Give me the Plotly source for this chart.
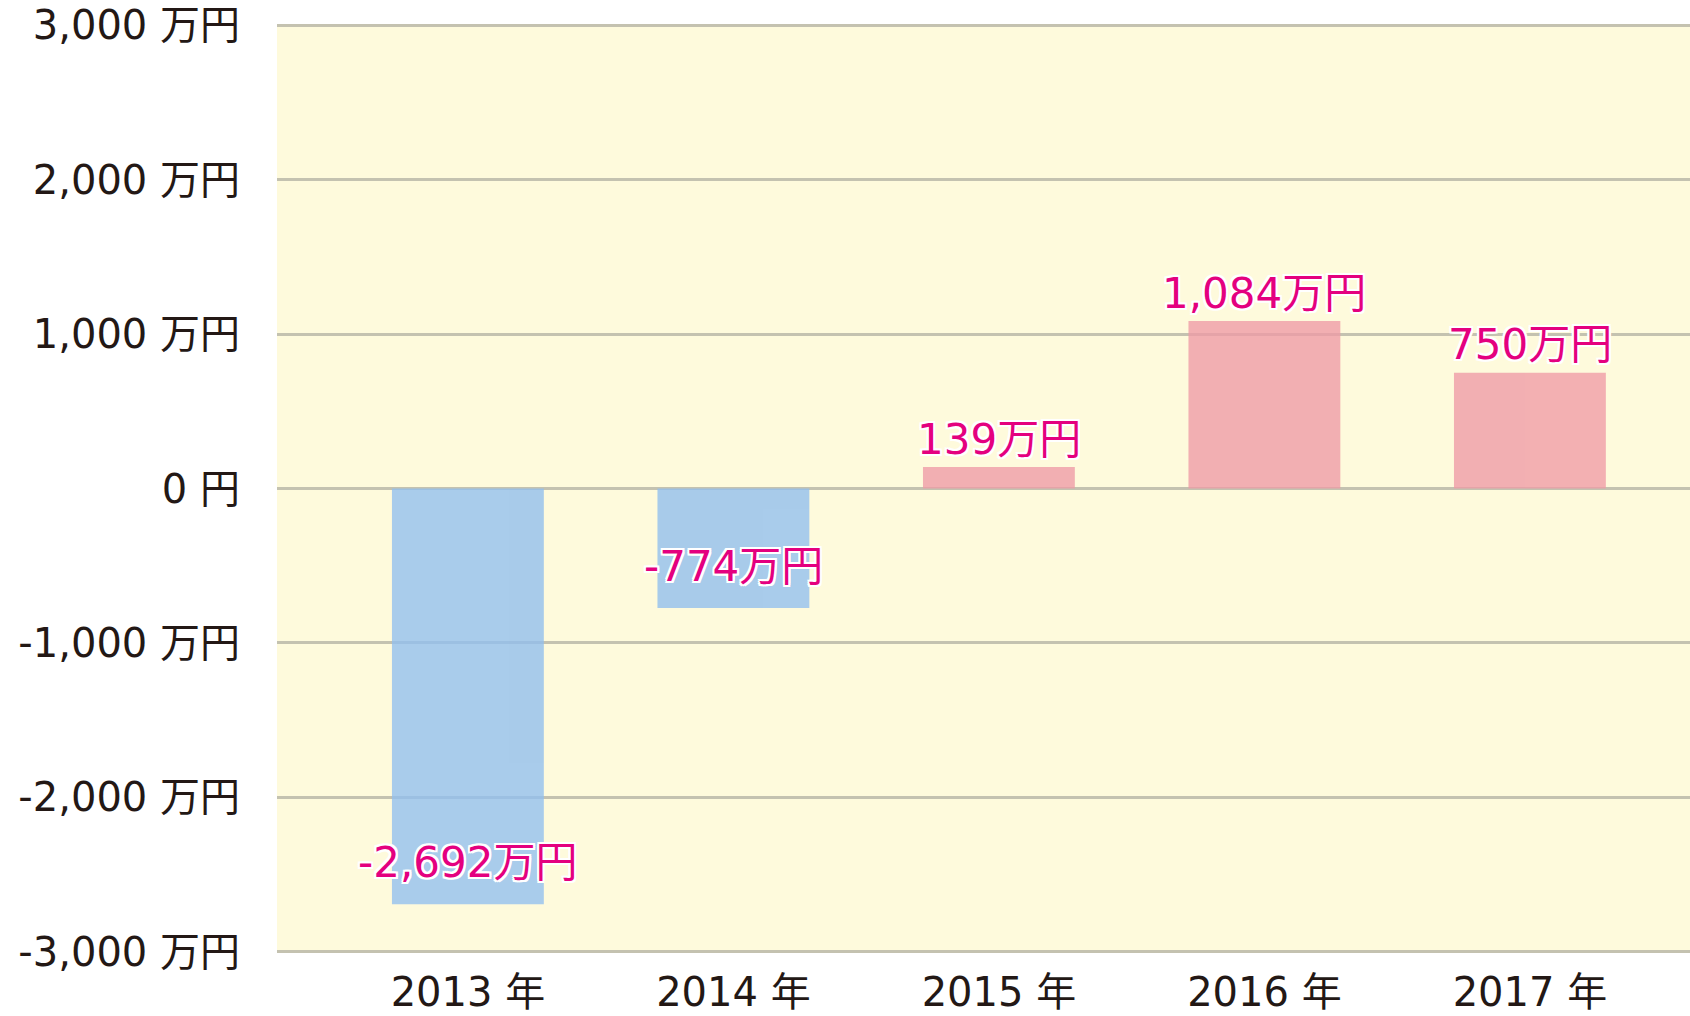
import plotly.graph_objects as go

years = ["2013 年", "2014 年", "2015 年", "2016 年", "2017 年"]
values = [-2692, -774, 139, 1084, 750]
value_labels = ["-2,692万円", "-774万円", "139万円", "1,084万円", "750万円"]
tick_vals = [3000, 2000, 1000, 0, -1000, -2000, -3000]
tick_text = ["3,000 万円", "2,000 万円", "1,000 万円", "0 円", "-1,000 万円", "-2,000 万円", "-3,000 万円"]

BLUE = "#91BFEF"
PINK = "#EF9BA7"
colors = [BLUE if v < 0 else PINK for v in values]

FONT = "DejaVu Sans, Noto Sans CJK JP, sans-serif"
MAGENTA = "#E4007F"
OUTLINE = ("2px 2px 0 #fff, -2px -2px 0 #fff, 2px -2px 0 #fff, -2px 2px 0 #fff, "
           "0 2px 0 #fff, 0 -2px 0 #fff, 2px 0 0 #fff, -2px 0 0 #fff")

fig = go.Figure()
fig.add_trace(go.Bar(
    x=years, y=values,
    marker=dict(color=colors, line=dict(width=0)),
    opacity=0.78,
    hoverinfo="skip",
))

for x, v, t in zip(years, values, value_labels):
    fig.add_annotation(
        x=x, y=v, text=t, showarrow=False,
        xanchor="center", yanchor="middle",
        yshift=28 if v >= 0 else 42,
        font=dict(family=FONT, size=42, color=MAGENTA, shadow=OUTLINE),
    )

fig.update_layout(
    width=1690, height=1016,
    margin=dict(l=277, r=0, t=24, b=63),
    paper_bgcolor="#FFFFFF",
    plot_bgcolor="#FEFADC",
    bargap=0.428,
    showlegend=False,
    font=dict(family=FONT, color="#231815"),
)
fig.update_xaxes(
    type="category",
    range=[-0.719, 4.603],
    showgrid=False, zeroline=False, showline=False,
    ticks="", ticklabelstandoff=12,
    tickfont=dict(family=FONT, size=40, color="#231815"),
)
fig.update_yaxes(
    range=[-3008, 3008],
    tickvals=tick_vals, ticktext=tick_text,
    showgrid=True, gridcolor="#C4C2B0", gridwidth=3,
    zeroline=False, showline=False,
    ticks="", ticklabelstandoff=36,
    tickfont=dict(family=FONT, size=40, color="#231815"),
)

fig.write_html("out.html")
